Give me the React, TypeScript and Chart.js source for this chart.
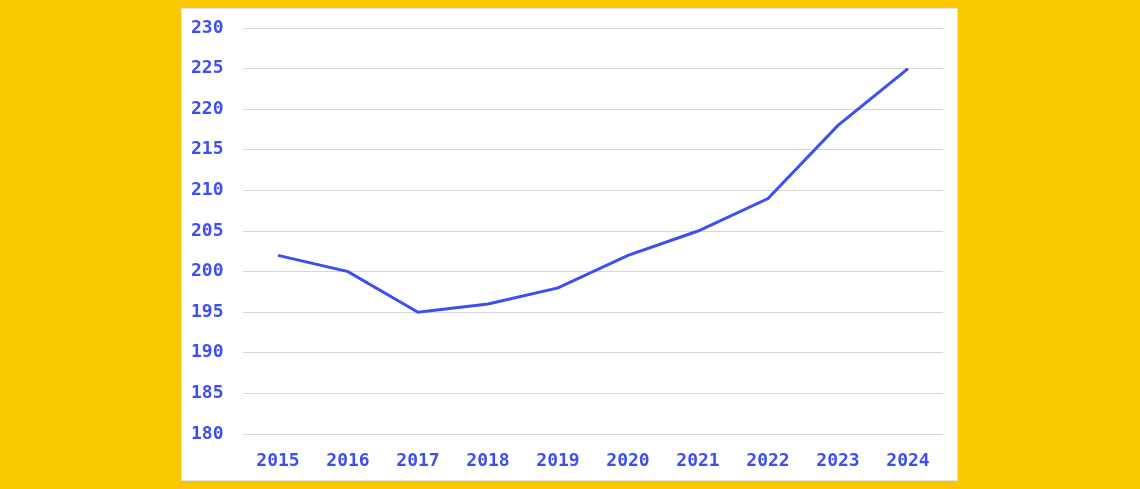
import React, { useEffect, useRef } from "react";
import { Chart, registerables } from "chart.js";

Chart.register(...registerables);

const years = ["2015", "2016", "2017", "2018", "2019", "2020", "2021", "2022", "2023", "2024"];
const values = [202, 200, 195, 196, 198, 202, 205, 209, 218, 225];
const yMin = 180;
const yMax = 230;
const yStep = 5;

const BLUE = "#3e4ff2";
const FONT = "'DejaVu Sans Mono', monospace";

export default function App() {
  const ref = useRef<HTMLCanvasElement | null>(null);

  useEffect(() => {
    if (!ref.current) return;
    const chart = new Chart(ref.current, {
      type: "line",
      data: {
        labels: years,
        datasets: [
          {
            data: values,
            borderColor: BLUE,
            backgroundColor: BLUE,
            borderWidth: 3,
            pointRadius: 0,
            tension: 0,
            fill: false,
          },
        ],
      },
      options: {
        animation: false,
        responsive: false,
        maintainAspectRatio: false,
        layout: { padding: { left: 10, right: 15, top: 20, bottom: 0 } },
        plugins: { legend: { display: false }, tooltip: { enabled: false } },
        scales: {
          x: {
            offset: true,
            grid: { display: false, drawTicks: false },
            border: { display: false },
            ticks: {
              color: BLUE,
              padding: 17,
              maxRotation: 0,
              font: { family: FONT, size: 18, weight: "bold" },
            },
            afterFit: (s: any) => {
              s.height = 47;
            },
          },
          y: {
            min: yMin,
            max: yMax,
            grid: { color: "#d6d6d6", drawTicks: false, lineWidth: 1 },
            border: { display: false },
            ticks: {
              stepSize: yStep,
              color: BLUE,
              crossAlign: "far",
              font: { family: FONT, size: 18, weight: "bold" },
            },
            afterFit: (s: any) => {
              s.width = 52;
            },
          },
        },
      },
    });
    return () => chart.destroy();
  }, []);

  return (
    <div style={{ position: "fixed", inset: 0, background: "#F9C800" }}>
      <div
        style={{
          position: "absolute",
          left: 181,
          top: 8,
          width: 777,
          height: 473,
          background: "#ffffff",
          boxShadow: "inset 0 0 0 1px #e2e2e2",
        }}
      >
        <canvas ref={ref} width={777} height={473} style={{ display: "block" }} />
      </div>
    </div>
  );
}
